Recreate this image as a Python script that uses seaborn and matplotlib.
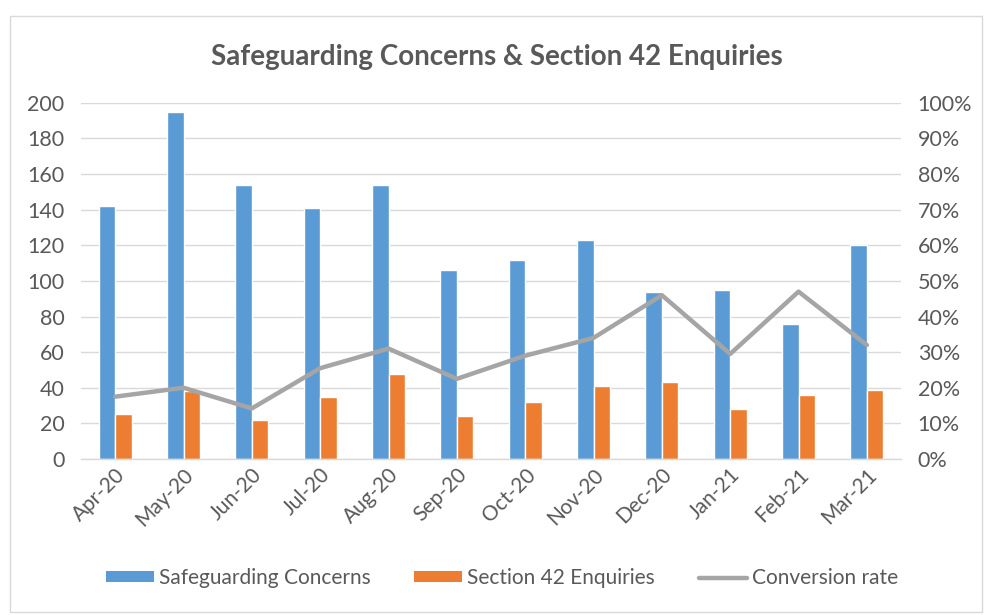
import numpy as np
import pandas as pd
import matplotlib
matplotlib.use("Agg")
import matplotlib.pyplot as plt
from matplotlib.patches import Rectangle
from matplotlib.lines import Line2D
from matplotlib.ticker import FixedLocator, PercentFormatter
import seaborn as sns

months = ["Apr-20", "May-20", "Jun-20", "Jul-20", "Aug-20", "Sep-20",
          "Oct-20", "Nov-20", "Dec-20", "Jan-21", "Feb-21", "Mar-21"]
concerns = [142, 195, 154, 141, 154, 106, 112, 123, 94, 95, 76, 120]
enquiries = [25, 38, 22, 35, 48, 24, 32, 41, 43, 28, 36, 39]
conversion = [0.175, 0.20, 0.142, 0.255, 0.31, 0.225, 0.29, 0.34, 0.46, 0.295, 0.47, 0.32]

series_names = ["Safeguarding Concerns", "Section 42 Enquiries", "Conversion rate"]
colors = {"Safeguarding Concerns": "#5b9bd5", "Section 42 Enquiries": "#ed7d31"}
line_color = "#a5a5a5"
text_color = "#595959"
grid_color = "#d9d9d9"

sns.set_theme(style="white")
plt.rcParams["font.family"] = ["Lato", "DejaVu Sans"]

bars = pd.DataFrame({
    "month": months * 2,
    "value": concerns + enquiries,
    "series": [series_names[0]] * len(months) + [series_names[1]] * len(months),
})

fig = plt.figure(figsize=(9.88, 6.15), dpi=100)
ax = fig.add_axes([0.082, 0.2537, 0.830, 0.579])

sns.barplot(data=bars, x="month", y="value", hue="series", order=months,
            hue_order=series_names[:2], palette=colors, width=0.48, gap=0,
            saturation=1, errorbar=None, legend=False, ax=ax, zorder=2)

ax.set_ylim(0, 200)
ax.set_xlim(-0.5, len(months) - 0.5)
ax.yaxis.set_major_locator(FixedLocator(np.arange(0, 201, 20)))
ax.grid(axis="y", color=grid_color, linewidth=1.0, zorder=0)
ax.set_axisbelow(True)
ax.set_xlabel("")
ax.set_ylabel("")
for side in ["top", "right", "left"]:
    ax.spines[side].set_visible(False)
ax.spines["bottom"].set_color(grid_color)
ax.spines["bottom"].set_linewidth(1.0)

ax.tick_params(axis="y", length=0, pad=12, labelsize=15.5, labelcolor=text_color)
ax.tick_params(axis="x", which="major", length=0, pad=4, labelsize=15, labelcolor=text_color)
ax.set_xticks(range(len(months)))
ax.set_xticklabels(months, rotation=45, ha="right", rotation_mode="anchor")
ax.set_xticks(np.arange(-0.5, len(months), 1.0), minor=True)
ax.tick_params(axis="x", which="minor", length=5, width=1, color=grid_color)

ax2 = ax.twinx()
sns.lineplot(x=np.arange(len(months)), y=conversion, color=line_color,
             linewidth=3.2, ax=ax2, zorder=3)
ax2.set_ylim(0, 1.0)
ax2.yaxis.set_major_locator(FixedLocator(np.arange(0, 1.01, 0.1)))
ax2.yaxis.set_major_formatter(PercentFormatter(1.0, decimals=0))
ax2.tick_params(axis="y", length=0, pad=12, labelsize=15.5, labelcolor=text_color)
for side in ["top", "right", "left", "bottom"]:
    ax2.spines[side].set_visible(False)
ax2.grid(False)
ax2.set_ylabel("")

fig.text(0.503, 0.907, "Safeguarding Concerns & Section 42 Enquiries",
         ha="center", va="center", fontsize=20, fontweight="bold", color=text_color)

handles = [
    Rectangle((0, 0), 1, 1, facecolor=colors[series_names[0]], edgecolor="none"),
    Rectangle((0, 0), 1, 1, facecolor=colors[series_names[1]], edgecolor="none"),
    Line2D([0], [0], color=line_color, linewidth=3.2),
]
fig.legend(handles, series_names, loc="center", bbox_to_anchor=(0.508, 0.06),
           ncol=3, frameon=False, fontsize=15, labelcolor=text_color,
           handlelength=2.3, handleheight=0.45, handletextpad=0.25, columnspacing=2.1)

fig.patches.append(Rectangle((10 / 988, 3 / 615), 972 / 988, 596 / 615,
                             transform=fig.transFigure, fill=False,
                             edgecolor=grid_color, linewidth=1.0))

fig.savefig("out.png", dpi=100, facecolor="white")
